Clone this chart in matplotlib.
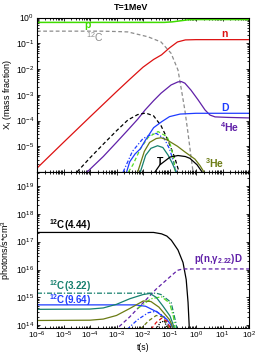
import numpy as np
import matplotlib
matplotlib.use('Agg')
import matplotlib.pyplot as plt
from matplotlib.ticker import LogLocator, NullFormatter, FixedLocator

plt.rcParams['font.family'] = ['Liberation Sans', 'DejaVu Sans']
plt.rcParams['mathtext.fontset'] = 'custom'
plt.rcParams['mathtext.rm'] = 'Liberation Sans'
plt.rcParams['mathtext.it'] = 'Liberation Sans:italic'
plt.rcParams['mathtext.bf'] = 'Liberation Sans:bold'

# ---------------- top panel data (log10 t [s], log10 mass fraction) -------------
p_logt = [-6, -1.2, -0.9, -0.6, -0.3, 0, 2]
p_logx = [-0.19, -0.19, -0.17, -0.13, -0.09, -0.08, -0.08]

c12_logt = [-6, -3.6, -3.0, -2.57, -1.81, -1.32, -0.94, -0.68, -0.57, -0.42, -0.30, -0.19, -0.11]
c12_logx = [-0.53, -0.53, -0.545, -0.56, -0.75, -0.95, -1.39, -2.04, -2.69, -3.6, -4.5, -5.4, -6.0]

n_logt = [-6, -5, -4, -3, -2.5, -2, -1.6, -1.3, -1.0, -0.7, -0.4, 0, 2]
n_logx = [-5.85, -4.85, -3.86, -2.88, -2.4, -1.93, -1.63, -1.45, -1.18, -0.95, -0.87, -0.86, -0.86]

he4_logt = [-4.11, -3.5, -3.0, -2.57, -2.2, -1.92, -1.6, -1.32, -0.94, -0.68, -0.55, -0.42,
            -0.19, 0.08, 0.34, 0.53, 0.72, 1.21, 2]
he4_logx = [-6, -5.4, -4.85, -4.37, -3.95, -3.59, -3.23, -2.94, -2.62, -2.5, -2.49, -2.55,
            -2.82, -3.2, -3.59, -3.79, -3.86, -3.88, -3.9]

bkd_logt = [-4.49, -4.0, -3.5, -3.0, -2.57, -2.2, -1.9, -1.6, -1.32, -1.06, -0.8, -0.64]
bkd_logx = [-6, -5.45, -4.92, -4.4, -3.98, -3.77, -3.71, -3.82, -4.2, -4.76, -5.45, -6]

d_logt = [-2.62, -2.5, -2.3, -2.1, -1.9, -1.6, -1.3, -1.0, -0.6, 0, 2]
d_logx = [-6, -5.6, -5.3, -5.1, -4.75, -4.28, -4.05, -3.85, -3.75, -3.72, -3.72]

bld_logt = [-2.75, -2.4, -2.0, -1.7, -1.5, -1.2, -1.0, -0.85, -0.75]
bld_logx = [-6, -5.2, -4.7, -4.55, -4.5, -4.7, -5.1, -5.6, -6]

grd_logt = [-2.55, -2.38, -2.1, -1.8, -1.43, -1.09, -0.95, -0.85, -0.78]
grd_logx = [-6, -5.72, -5.1, -4.65, -4.43, -4.63, -5.0, -5.45, -6]

he3_logt = [-2.2, -1.95, -1.75, -1.5, -1.32, -1.1, -0.94, -0.7, -0.42, -0.04, 0.15, 0.3]
he3_logx = [-6, -5.2, -4.85, -4.7, -4.67, -4.75, -4.85, -5.0, -5.22, -5.5, -5.75, -6]

tl_logt = [-2.1, -1.9, -1.7, -1.45, -1.25, -1.05, -0.9, -0.75]
tl_logx = [-6, -5.35, -5.08, -4.98, -5.05, -5.35, -5.65, -6]

t_logt = [-1.55, -1.36, -0.98, -0.68, -0.4, -0.23, 0.04, 0.23]
t_logx = [-6, -5.72, -5.42, -5.36, -5.4, -5.47, -5.72, -6]

# ---------------- bottom panel data (log10 t, log10 photons/s*cm^3) -------------
g444_logt = [-6, -1.6, -1.3, -1.1, -0.93, -0.68, -0.49, -0.37, -0.30, -0.26, -0.25]
g444_logy = [17.33, 17.33, 17.28, 17.2, 17.05, 16.7, 16.25, 15.64, 14.82, 14.04, 13.8]

g222_logt = [-2.9, -2.5, -2.0, -1.5, -1.0, -0.7, -0.5, 2]
g222_logy = [13.95, 14.3, 14.8, 15.3, 15.72, 15.97, 16.02, 16.02]

g322_logt = [-6, -1.5, -1.32, -0.94, -0.79, -0.75, -0.72]
g322_logy = [15.15, 15.15, 15.1, 14.82, 14.21, 14.04, 13.8]

g964_logt = [-6, -2.3, -1.9, -1.48, -1.1, -0.92, -0.85]
g964_logy = [14.73, 14.73, 14.68, 14.48, 14.21, 13.98, 13.8]

tls_logt = [-6, -4, -3.5, -3, -2.5, -2.0, -1.74, -1.5, -1.25, -0.98, -0.87, -0.8]
tls_logy = [14.57, 14.58, 14.62, 14.75, 14.95, 15.1, 15.14, 15.0, 14.69, 14.33, 14.04, 13.8]

ols_logt = [-6, -4, -3.5, -3, -2.5, -1.99, -1.7, -1.4, -1.23, -1.0, -0.92, -0.85]
ols_logy = [14.17, 14.18, 14.22, 14.35, 14.6, 14.87, 14.85, 14.65, 14.46, 14.2, 14.03, 13.8]

lgd_logt = [-2.2, -1.7, -1.3, -1.0, -0.85, -0.78]
lgd_logy = [14.6, 14.95, 15.02, 14.8, 14.3, 13.8]

bdd_logt = [-2.6, -2.2, -1.8, -1.5, -1.2, -0.95]
bdd_logy = [13.85, 14.2, 14.45, 14.5, 14.3, 13.85]

old_logt = [-2.1, -1.8, -1.5, -1.25, -1.0]
old_logy = [13.85, 14.15, 14.35, 14.3, 13.85]

rdd_logt = [-1.7, -1.5, -1.3, -1.1, -0.95]
rdd_logy = [13.85, 14.1, 14.25, 14.15, 13.85]

kdd_logt = [-1.5, -1.35, -1.2, -1.05]
kdd_logy = [13.85, 14.1, 14.15, 13.85]

P = lambda a: np.power(10.0, np.asarray(a, dtype=float))

GREEN = '#3fdc00'
GRAY = '#8c8c8c'
RED = '#dd1111'
PURPLE = '#6020a8'
BLUE = '#1f3cff'
OLIVE = '#6b7b14'
TEAL = '#16806e'
LIME = '#55dd22'

W, H = 258, 352
fig = plt.figure(figsize=(W / 100, H / 100), dpi=100)
L = 37 / W
AW = 212 / W
ax1 = fig.add_axes([L, 1 - 172 / H, AW, (172 - 17.5) / H])
ax2 = fig.add_axes([L, 1 - 328 / H, AW, (328 - 172) / H])

lw = 0.9
# top panel
ax1.plot(P(p_logt), P(p_logx), color=GREEN, lw=1.1)
ax1.plot(P(c12_logt), P(c12_logx), color=GRAY, lw=lw, dashes=(3, 2))
ax1.plot(P(n_logt), P(n_logx), color=RED, lw=lw)
ax1.plot(P(he4_logt), P(he4_logx), color=PURPLE, lw=lw)
ax1.plot(P(bkd_logt), P(bkd_logx), color='black', lw=lw, dashes=(3, 2))
ax1.plot(P(bld_logt), P(bld_logx), color=BLUE, lw=lw, dashes=(3, 1.5, 1, 1.5))
ax1.plot(P(grd_logt), P(grd_logx), color=LIME, lw=lw, dashes=(3, 2))
ax1.plot(P(d_logt), P(d_logx), color=BLUE, lw=lw)
ax1.plot(P(he3_logt), P(he3_logx), color=OLIVE, lw=lw)
ax1.plot(P(tl_logt), P(tl_logx), color=TEAL, lw=lw)
ax1.plot(P(t_logt), P(t_logx), color='black', lw=lw)

# bottom panel
ax2.plot(P(g444_logt), P(g444_logy), color='black', lw=lw)
ax2.plot(P(g222_logt), P(g222_logy), color=PURPLE, lw=lw, dashes=(3, 2))
ax2.plot(P(g322_logt), P(g322_logy), color=TEAL, lw=lw, dashes=(4, 1.5, 1, 1.5))
ax2.plot(P(lgd_logt), P(lgd_logy), color=LIME, lw=lw, dashes=(4, 1.5, 1, 1.5))
ax2.plot(P(g964_logt), P(g964_logy), color=BLUE, lw=lw)
ax2.plot(P(tls_logt), P(tls_logy), color=TEAL, lw=lw)
ax2.plot(P(ols_logt), P(ols_logy), color=OLIVE, lw=lw)
ax2.plot(P(bdd_logt), P(bdd_logy), color=BLUE, lw=lw, dashes=(3, 1.5, 1, 1.5))
ax2.plot(P(old_logt), P(old_logy), color=OLIVE, lw=lw, dashes=(3, 2))
ax2.plot(P(rdd_logt), P(rdd_logy), color=RED, lw=lw, dashes=(3, 2))
ax2.plot(P(kdd_logt), P(kdd_logy), color='black', lw=lw, dashes=(1, 1))

for ax in (ax1, ax2):
    ax.set_xscale('log')
    ax.set_yscale('log')
    ax.set_xlim(1e-6, 1e2)
    ax.xaxis.set_major_locator(LogLocator(base=10, numticks=20))
    ax.xaxis.set_minor_locator(LogLocator(base=10, subs=np.arange(2, 10), numticks=100))
    ax.xaxis.set_minor_formatter(NullFormatter())
    ax.yaxis.set_minor_formatter(NullFormatter())
    ax.tick_params(which='both', direction='in', top=True, right=True, width=0.6,
                   labelsize=6.2, pad=2)
    ax.tick_params(which='major', length=2.5)
    ax.tick_params(which='minor', length=1.3)
    for s in ax.spines.values():
        s.set_linewidth(0.8)

ax1.set_ylim(1e-6, 1)
ax1.yaxis.set_major_locator(FixedLocator([1e-5, 1e-4, 1e-3, 1e-2, 1e-1, 1e0]))
ax1.yaxis.set_minor_locator(LogLocator(base=10, subs=np.arange(2, 10), numticks=100))
ax1.tick_params(axis='x', labelbottom=False)
ax1.set_ylabel('X$_\\mathrm{i}$ (mass fraction)', fontsize=6.5, labelpad=1.5)

ax2.set_ylim(10 ** 13.9, 10 ** 19.5)
ax2.yaxis.set_major_locator(FixedLocator([1e14, 1e15, 1e16, 1e17, 1e18, 1e19]))
ax2.yaxis.set_minor_locator(LogLocator(base=10, subs=np.arange(2, 10), numticks=100))
ax2.tick_params(axis='x', pad=1.2, labelsize=5.9)
ax2.set_ylabel('photons/s*cm$^3$', fontsize=6.5, labelpad=2)

fig.text(143 / W, 1 - 347 / H, 't(s)', fontsize=6.2, ha='center', va='center')
fig.text(131 / W, 1 - 8 / H, 'T=1MeV', fontsize=6.5, fontweight='bold', ha='center', va='center')

tk = dict(fontsize=7.5, fontweight='bold', ha='center', va='center')
ax1.text(10 ** -4.08, 10 ** -0.30, 'p', color=GREEN, **tk)
ax1.text(10 ** -3.81, 10 ** -0.78, r'$^{12}$C', color=GRAY, fontsize=7.5, ha='center', va='center')
ax1.text(10 ** 1.09, 10 ** -0.66, 'n', color=RED, **tk)
ax1.text(10 ** 1.08, 10 ** -3.53, 'D', color=BLUE, **tk)
ax1.text(10 ** 1.27, 10 ** -4.24, r'$^{\mathbf{4}}$He', color=PURPLE, **tk)
ax1.text(10 ** 0.70, 10 ** -5.66, r'$^{\mathbf{3}}$He', color=OLIVE, **tk)
ax1.text(10 ** -1.37, 10 ** -5.62, 'T', color='black', **tk)

tb = dict(fontsize=7, fontweight='bold', ha='center', va='center')
ax2.text(10 ** -4.75, 10 ** 17.58, r'$^{\mathbf{12}}$C(4.44)', color='black', **tb)
ax2.text(10 ** -4.75, 10 ** 15.42, r'$^{\mathbf{12}}$C(3.22)', color=TEAL, **tb)
ax2.text(10 ** -4.75, 10 ** 14.9, r'$^{\mathbf{12}}$C(9.64)', color=BLUE, **tb)
ax2.text(10 ** 0.83, 10 ** 16.36, r'p(n,γ$_{\mathbf{2.22}}$)D', color=PURPLE, **tb)

fig.savefig('out.png', dpi=100)
